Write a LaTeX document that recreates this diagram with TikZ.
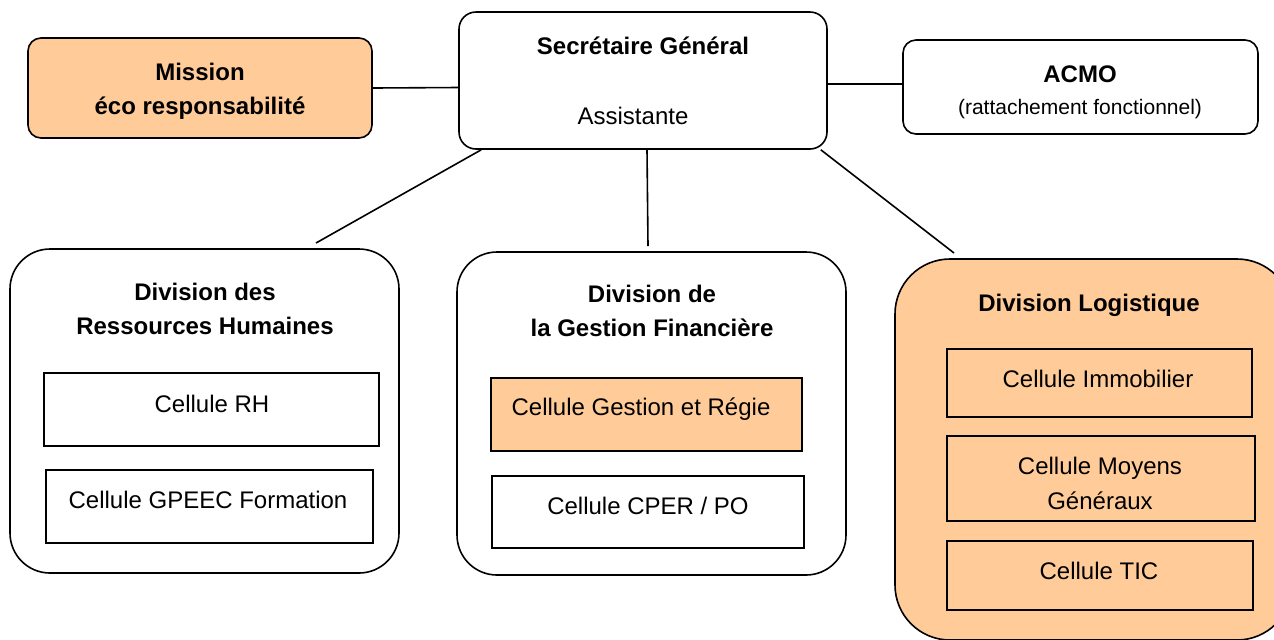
\documentclass[tikz,border=0pt]{standalone}
\usepackage{fontspec}
\setmainfont{Liberation Sans}
\definecolor{orangefill}{HTML}{FFCC99}
\begin{document}
\begin{tikzpicture}[x=0.5pt,y=-0.5pt,
  box/.style={draw,line width=0.8pt,inner sep=0pt},
  topbox/.style={box,rounded corners=6.5pt},
  divbox/.style={box,rounded corners=20pt},
  cellbox/.style={box,line width=0.9pt},
  txt/.style={anchor=base,inner sep=0pt,align=center,font=\fontsize{12}{17}\selectfont},
  bold/.style={txt,font=\fontsize{12}{17}\selectfont\bfseries},
  link/.style={line width=0.8pt}]
\useasboundingbox (0,0) rectangle (1274,639);

% Top row
\node[topbox,fill=orangefill,minimum width=172pt,minimum height=50pt] (mission) at (200,88) {};
\node[topbox,rounded corners=8.5pt,minimum width=184pt,minimum height=68.5pt] (sg) at (643,80.5) {};
\node[topbox,minimum width=177.5pt,minimum height=47pt] (acmo) at (1080.5,87) {};

% (multi-line texts sit on their last baseline)
\node[bold] (mission-txt) at (200,114.5) {Mission\\éco responsabilité};
\node[bold] (sg-txt) at (643,54) {Secrétaire Général};
\node[txt] (sg-sub) at (633,124) {Assistante};
\node[bold] (acmo-txt) at (1080,82) {ACMO};
\node[txt,font=\fontsize{10.5}{12}\selectfont] (acmo-sub) at (1080,114) {(rattachement fonctionnel)};

% Divisions
\node[divbox,minimum width=194.5pt,minimum height=162pt] (rhdiv) at (204.5,411) {};
\node[divbox,minimum width=194.5pt,minimum height=161.5pt] (gfdiv) at (651.5,413.5) {};
\node[divbox,rounded corners=27.5pt,fill=orangefill,minimum width=198.5pt,minimum height=190.5pt] (logdiv) at (1093.5,449.5) {};

\node[bold] (rhdiv-txt) at (205,334) {Division des\\Ressources Humaines};
\node[bold] (gfdiv-txt) at (652,336) {Division de\\la Gestion Financière};
\node[bold] (logdiv-txt) at (1089,311) {Division Logistique};

% Cells
\foreach \name/\cx/\cy/\w/\h/\col in {
  rh/211.5/409.5/167.5/36.5/white,
  gpeec/209.5/506.5/163.5/36.5/white,
  gestion/646.5/414.5/155.5/36.5/orangefill,
  cper/648/512/156/36/white,
  immo/1099.5/383/152.5/34/orangefill,
  moyens/1101/478.5/154/42.5/orangefill,
  tic/1100/575.5/153/34.5/orangefill} {
  \node[cellbox,fill=\col,minimum width=\w pt,minimum height=\h pt] (\name) at (\cx,\cy) {};
}

\node[txt] (rh-txt) at (212,412) {Cellule RH};
\node[txt] (gpeec-txt) at (208,508) {Cellule GPEEC Formation};
\node[txt] (gestion-txt) at (641,415) {Cellule Gestion et Régie};
\node[txt] (cper-txt) at (648,514) {Cellule CPER / PO};
\node[txt] (immo-txt) at (1098,387) {Cellule Immobilier};
\node[txt,font=\fontsize{12}{17.5}\selectfont] (moyens-txt) at (1100,509) {Cellule Moyens\\Généraux};
\node[txt] (tic-txt) at (1099,579) {Cellule TIC};

% Links
\coordinate (rh-in) at (316,243);
\coordinate (gf-in) at (648,246);
\coordinate (log-in) at (954,253);
\draw[link] (mission.east) -- ([yshift=-3.5pt]sg.west);
\draw[link] ([yshift=-1.75pt]sg.east) -- ([yshift=1.5pt]acmo.west);
\draw[link] ([xshift=11.5pt]sg.south west) -- (rh-in);
\draw[link] ([xshift=2pt]sg.south) -- (gf-in);
\draw[link] ([xshift=-3.5pt]sg.south east) -- (log-in);

\end{tikzpicture}
\end{document}
